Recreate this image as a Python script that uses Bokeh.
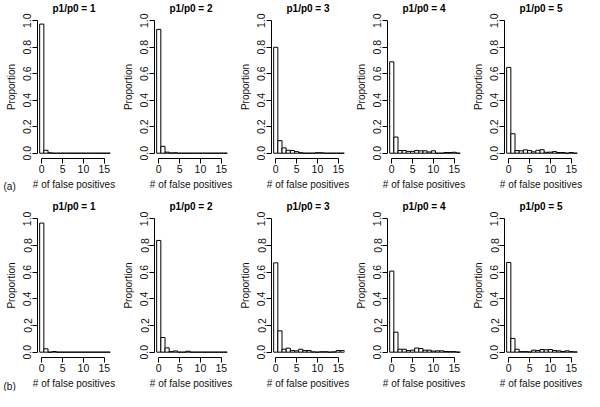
from bokeh.plotting import figure
from bokeh.layouts import gridplot
from bokeh.models import Range1d, FixedTicker, NumeralTickFormatter, Title, ColumnDataSource
from bokeh.embed import file_html
from bokeh.resources import INLINE

# ---- data ----
fp_counts = list(range(17))  # number of false positives (histogram bins centred on integers)
ratio_titles = ["p1/p0 = 1", "p1/p0 = 2", "p1/p0 = 3", "p1/p0 = 4", "p1/p0 = 5"]
row_tags = ["(a)", "(b)"]

a_r1 = [0.975, 0.022, 0.003, 0, 0, 0, 0, 0, 0, 0, 0, 0, 0, 0, 0, 0, 0]
a_r2 = [0.935, 0.052, 0.008, 0.002, 0.003, 0, 0, 0, 0, 0, 0, 0, 0, 0, 0, 0, 0]
a_r3 = [0.800, 0.095, 0.040, 0.022, 0.020, 0.012, 0.004, 0, 0, 0, 0.004, 0.003, 0, 0, 0, 0, 0]
a_r4 = [0.690, 0.122, 0.020, 0.020, 0.014, 0.014, 0.020, 0.018, 0.018, 0.009, 0.018, 0, 0, 0.005, 0.005, 0.007, 0]
a_r5 = [0.648, 0.147, 0.020, 0.018, 0.025, 0.020, 0.010, 0.022, 0.026, 0.007, 0.008, 0.012, 0.005, 0.005, 0, 0.005, 0]

b_r1 = [0.968, 0.025, 0, 0.005, 0, 0, 0, 0, 0, 0, 0, 0, 0, 0, 0, 0, 0]
b_r2 = [0.838, 0.110, 0.032, 0.004, 0.009, 0, 0, 0.007, 0, 0, 0, 0, 0, 0, 0, 0, 0]
b_r3 = [0.670, 0.160, 0.022, 0.030, 0.012, 0.010, 0.022, 0.012, 0.012, 0.002, 0, 0.003, 0.003, 0, 0.002, 0.012, 0.012]
b_r4 = [0.608, 0.150, 0.022, 0.022, 0.012, 0.015, 0.031, 0.027, 0.015, 0.015, 0.008, 0.010, 0.010, 0.005, 0.004, 0.004, 0]
b_r5 = [0.673, 0.103, 0.022, 0.004, 0.004, 0.002, 0.015, 0.012, 0.020, 0.018, 0.020, 0.012, 0.010, 0.005, 0.010, 0.004, 0.002]

rows_data = [[a_r1, a_r2, a_r3, a_r4, a_r5], [b_r1, b_r2, b_r3, b_r4, b_r5]]

x_ticks = [0, 5, 10, 15]
y_ticks = [0.0, 0.2, 0.4, 0.6, 0.8, 1.0]
x_title = "# of false positives"
y_title = "Proportion"

# ---- layout ----
FONT = "Liberation Sans"
col_widths = [117, 117, 116, 117, 117]
row_heights = [192, 199]
border_top = [15, 21]
border_bottom = [33, 34]
border_left = [35, 37]
tag_offset = [-34, -34]
tag_standoff = [-24, -21]
frame_w = 75
X0, X1 = -1.02, 16.5
Y0, Y1 = -0.04, 1.04

grid = []
for r in range(2):
    row = []
    for c in range(5):
        vals = rows_data[r][c]
        w = col_widths[c]
        p = figure(width=w, height=row_heights[r], output_backend="svg",
                   toolbar_location=None, tools="",
                   x_range=Range1d(X0, X1), y_range=Range1d(Y0, Y1),
                   min_border_left=border_left[r], min_border_right=w - border_left[r] - frame_w,
                   min_border_top=border_top[r], min_border_bottom=border_bottom[r],
                   title=ratio_titles[c])
        src = ColumnDataSource(dict(left=[k - 0.5 for k in fp_counts],
                                    right=[k + 0.5 for k in fp_counts],
                                    top=vals, bottom=[0] * len(vals)))
        p.quad(left="left", right="right", top="top", bottom="bottom", source=src,
               fill_color="white", line_color="black", line_width=1)
        p.outline_line_color = None
        p.grid.visible = False
        p.background_fill_color = "white"
        p.border_fill_color = "white"

        p.title.text_font = FONT
        p.title.text_font_size = "10px"
        p.title.text_font_style = "bold"
        p.title.align = "center"
        p.title.vertical_align = "middle"
        p.title.standoff = 1
        p.title.text_color = "black"

        for ax in (p.xaxis[0], p.yaxis[0]):
            ax.axis_line_color = "black"
            ax.major_tick_line_color = "black"
            ax.minor_tick_line_color = None
            ax.major_tick_out = 5
            ax.major_tick_in = 0
            ax.major_label_text_font = FONT
            ax.major_label_text_font_size = "10.5px"
            ax.major_label_text_color = "#111111"
            ax.axis_label_text_font = FONT
            ax.axis_label_text_font_size = "10px"
            ax.axis_label_text_font_style = "normal"
            ax.axis_label_text_color = "#111111"

        p.xaxis.ticker = FixedTicker(ticks=x_ticks)
        p.xaxis.bounds = (0, 15)
        p.xaxis.axis_label = x_title
        p.xaxis.major_label_standoff = 1
        p.xaxis.axis_label_standoff = 3

        p.yaxis.ticker = FixedTicker(ticks=y_ticks)
        p.yaxis.formatter = NumeralTickFormatter(format="0.0")
        p.yaxis.bounds = (0, 1)
        p.yaxis.axis_label = y_title
        p.yaxis.major_label_orientation = "vertical"
        p.yaxis.major_label_standoff = 1
        p.yaxis.axis_label_standoff = 4

        if c == 0:
            # row tag in the left margin, level with the x-axis title
            tag = Title(text=row_tags[r], align="left", offset=tag_offset[r],
                        standoff=tag_standoff[r], vertical_align="top", text_font=FONT,
                        text_font_size="10px", text_font_style="normal", text_color="#111111")
            p.add_layout(tag, "below")
        row.append(p)
    grid.append(row)

layout = gridplot(grid, toolbar_location=None)
open("out.html", "w").write(file_html(layout, INLINE))
